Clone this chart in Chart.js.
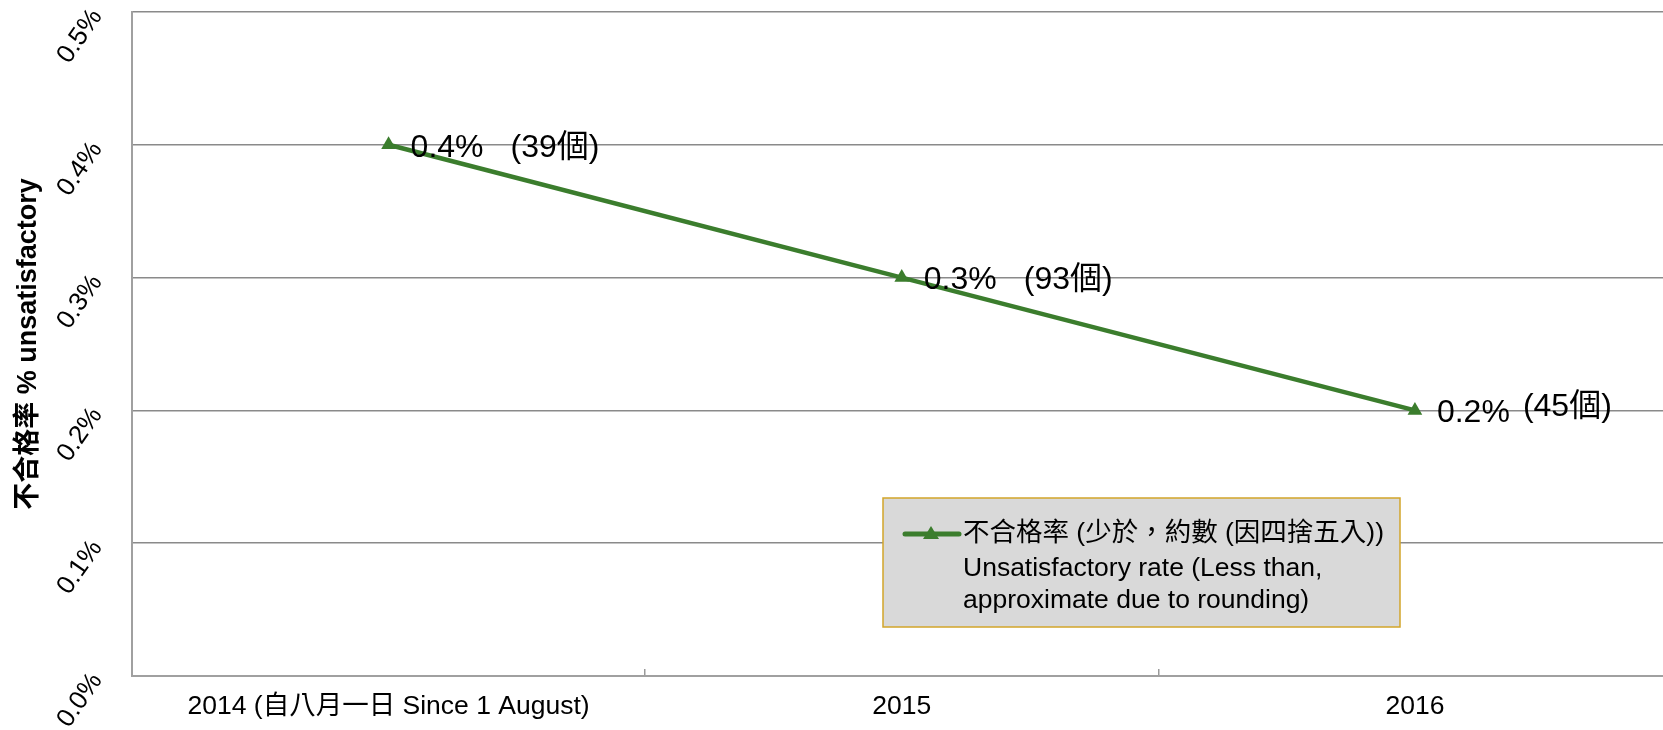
<!DOCTYPE html>
<html>
<head>
<meta charset="utf-8">
<script src="https://cdn.jsdelivr.net/npm/chart.js@4"></script>
<style>
    html, body { margin: 0; padding: 0; background: #fff; overflow: hidden; }
    #wrap { position: relative; width: 1680px; height: 730px; }
</style>
</head>
<body>
<div id="wrap"><canvas id="chart"></canvas></div>
<script>
// ── Veriler ──
const categories = ['2014 (自八月一日 Since 1 August)', '2015', '2016'];
const rates = [0.4, 0.3, 0.2];            // %
const counts = [39, 93, 45];               // 個
const yMin = 0, yMax = 0.5, yStep = 0.1;

const legendLines = [
    '不合格率 (少於，約數 (因四捨五入))',
    'Unsatisfactory rate (Less than,',
    'approximate due to rounding)'
];

const GREEN = '#3b7d2d';
const FONT = '"Liberation Sans", Arial, "Noto Sans CJK TC", sans-serif';

// ── Nokta etiketleri ──
const pointLabels = {
    id: 'pointLabels',
    afterDatasetsDraw(chart) {
        const ctx = chart.ctx;
        const pts = chart.getDatasetMeta(0).data;
        const shift = [[100, 0], [100, 0], [86, -6]];
        ctx.save();
        ctx.fillStyle = '#000';
        ctx.font = '32px ' + FONT;
        ctx.textAlign = 'left';
        ctx.textBaseline = 'middle';
        pts.forEach((p, i) => {
            ctx.fillText(rates[i].toFixed(1) + '%', p.x + 22, p.y + 3);
            ctx.fillText('(' + counts[i] + '個)', p.x + 22 + shift[i][0], p.y + 3 + shift[i][1]);
        });
        ctx.restore();
    }
};

// ── Lejant kutusu ──
const boxLegend = {
    id: 'boxLegend',
    afterDraw(chart) {
        const ctx = chart.ctx;
        const a = chart.chartArea;
        const x = a.left + 751, y = a.top + 486, w = 517, h = 129;
        ctx.save();
        ctx.fillStyle = '#d9d9d9';
        ctx.fillRect(x, y, w, h);
        ctx.strokeStyle = '#d2a52a';
        ctx.lineWidth = 1.5;
        ctx.strokeRect(x, y, w, h);

        // işaret
        const my = y + 36;
        ctx.strokeStyle = GREEN;
        ctx.lineWidth = 5;
        ctx.lineCap = 'round';
        ctx.beginPath();
        ctx.moveTo(x + 22, my);
        ctx.lineTo(x + 76, my);
        ctx.stroke();
        ctx.fillStyle = GREEN;
        ctx.beginPath();
        ctx.moveTo(x + 48, my - 8);
        ctx.lineTo(x + 56, my + 5);
        ctx.lineTo(x + 40, my + 5);
        ctx.closePath();
        ctx.fill();

        ctx.fillStyle = '#000';
        ctx.font = '26.5px ' + FONT;
        ctx.textAlign = 'left';
        ctx.textBaseline = 'middle';
        ctx.fillText(legendLines[0], x + 80, my);
        ctx.fillText(legendLines[1], x + 80, my + 35);
        ctx.fillText(legendLines[2], x + 80, my + 67);
        ctx.restore();
    }
};

new Chart(document.getElementById('chart'), {
    type: 'line',
    data: {
        labels: categories,
        datasets: [{
            data: rates,
            borderColor: GREEN,
            backgroundColor: GREEN,
            borderWidth: 4.5,
            tension: 0,
            fill: false,
            pointStyle: 'triangle',
            pointRadius: 8.5,
            pointBorderWidth: 0,
            pointBackgroundColor: GREEN
        }]
    },
    options: {
        responsive: true,
        maintainAspectRatio: false,
        animation: false,
        layout: { padding: { top: 12, right: 6, left: 0, bottom: 0 } },
        plugins: { legend: { display: false }, tooltip: { enabled: false } },
        scales: {
            x: {
                offset: true,
                grid: { offset: true, drawOnChartArea: false, drawTicks: true, tickLength: -7, color: '#9a9a9a', lineWidth: 1.5 },
                border: { color: '#a0a0a0', width: 2 },
                ticks: { color: '#000', padding: 22, maxRotation: 0, font: { family: FONT, size: 26.5 } },
                afterFit: s => { s.height = 54; s.paddingLeft = 0; s.paddingRight = 0; }
            },
            y: {
                min: yMin, max: yMax,
                grid: { color: '#8a8a8a', lineWidth: 1.5, drawTicks: false },
                border: { color: '#a0a0a0', width: 2 },
                ticks: {
                    stepSize: yStep,
                    color: '#000',
                    padding: 35,
                    minRotation: 55, maxRotation: 55,
                    font: { family: FONT, size: 26 },
                    callback: v => v.toFixed(1) + '%'
                },
                title: {
                    display: true,
                    text: '不合格率 % unsatisfactory',
                    color: '#000',
                    font: { family: FONT, size: 27, weight: 'bold' },
                    padding: { top: 12, bottom: 0 }
                },
                afterFit: s => { s.width = 132; s.paddingTop = 0; s.paddingBottom = 0; }
            }
        }
    },
    plugins: [pointLabels, boxLegend]
});
</script>
</body>
</html>
